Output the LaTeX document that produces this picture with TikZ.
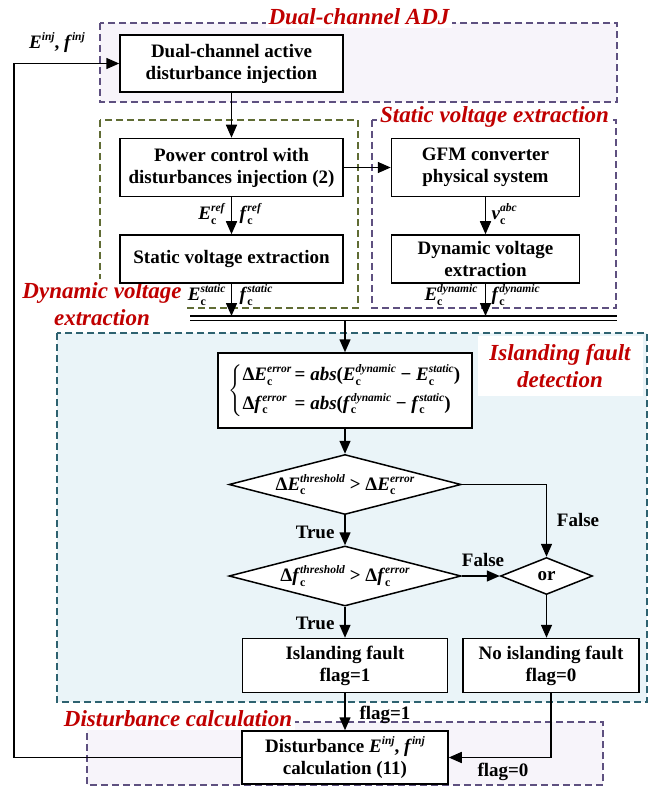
\documentclass[tikz,border=0pt]{standalone}
\usepackage{amsmath}
\usepackage{fontspec}
\setmainfont{Liberation Serif}
\usetikzlibrary{arrows.meta,shapes.geometric,positioning}

\definecolor{adjline}{RGB}{94,80,128}
\definecolor{adjfill}{RGB}{247,244,250}
\definecolor{svline}{RGB}{96,108,52}
\definecolor{ifline}{RGB}{46,98,112}
\definecolor{iffill}{RGB}{234,244,248}
\definecolor{titred}{RGB}{192,0,0}

\tikzstyle{block} = [draw, rectangle, line width=1.5pt, fill=white, align=center, inner sep=2pt]
\tikzstyle{decision} = [draw, diamond, line width=1.5pt, fill=white, inner sep=-4pt, aspect=3.8]
\tikzstyle{group} = [draw, dash pattern=on 7pt off 4pt, line width=1.4pt]
\tikzstyle{title} = [fill=white, text=titred, align=center, inner sep=3pt,
                     font=\fontsize{23}{27}\selectfont\bfseries\itshape]
\tikzstyle{arr} = [-{Triangle[length=13pt,width=11pt]}, line width=1.5pt]

% variable with subscript c and italic superscript
\newcommand{\vc}[2]{\textit{#1}\rlap{\raisebox{-4.5pt}{\fontsize{12}{12}\selectfont c}}%
  \raisebox{8pt}{\fontsize{11.5}{12}\selectfont\textit{#2}}}
\newcommand{\vi}[2]{\textit{#1}\raisebox{8pt}{\fontsize{11.5}{12}\selectfont\textit{#2}}}

\begin{document}
\begin{tikzpicture} [x=1pt, y=-1pt, font=\fontsize{19}{22}\selectfont\bfseries]

\useasboundingbox (0,0) rectangle (664,791);

% dashed groups
\draw[group, draw=adjline, fill=adjfill] (100,23) rectangle (617,102);
\draw[group, draw=svline] (100,120) rectangle (358,308);
\draw[group, draw=adjline] (372,120) rectangle (616,308);
\draw[group, draw=ifline, fill=iffill] (57,333) rectangle (647,702);
\draw[group, draw=adjline, fill=adjfill] (87,722) rectangle (603,785);

\node[title] (tadj) at (359,17) {Dual-channel ADJ};
\node[title, anchor=west] (tsv) at (377,117) {Static voltage extraction};
\node[title] (tdv) at (102,304) {Dynamic voltage\\extraction};
\node[title, minimum width=165pt, minimum height=60pt] (tif) at (560,366)
      {Islanding fault\\detection};
\node[title] (tdc) at (178,719) {Disturbance calculation};

% blocks
\node[block, minimum width=223pt, minimum height=57pt]
      (inj) at (231.5,63.5) {Dual-channel active\\disturbance injection};

\node[block, below=45pt of inj, minimum width=223pt, minimum height=58pt]
      (pwr) {Power control with\\disturbances injection (2)};

\node[block, below=37pt of pwr, minimum width=223pt, minimum height=48pt]
      (stat) {Static voltage extraction};

\node[block, right=47pt of pwr, minimum width=188pt, minimum height=58pt]
      (gfm) {GFM converter\\physical system};

\node[block, below=37pt of gfm, minimum width=188pt, minimum height=48pt]
      (dyn) {Dynamic voltage\\extraction};

\node[block, minimum width=254pt, minimum height=75pt, inner sep=1pt] (eq) at (345,390.5)
      {$\left\{\begin{tabular}{@{}l@{\,}l@{}}
       Δ\vc{E}{error} & = \textit{abs}(\vc{E}{dynamic} − \vc{E}{static})\\[6pt]
       Δ\vc{f}{error} & = \textit{abs}(\vc{f}{dynamic} − \vc{f}{static})
       \end{tabular}\right.$};

\node[decision, below=25pt of eq, minimum width=232pt, minimum height=60pt]
      (d1) {Δ\vc{E}{threshold} > Δ\vc{E}{error}};

\node[decision, below=30pt of d1, minimum width=232pt, minimum height=60pt]
      (d2) {Δ\vc{f}{threshold} > Δ\vc{f}{error}};

\node[decision, right=38pt of d2, minimum width=92pt, minimum height=37pt,
      inner sep=0pt, aspect=2.5]
      (or) {or};

\node[block, below=31pt of d2, minimum width=205pt, minimum height=54pt]
      (isl) {Islanding fault\\flag=1};

\node[block, right=14pt of isl, minimum width=176pt, minimum height=54pt]
      (noisl) {No islanding fault\\flag=0};

\node[block, below=37pt of isl, minimum width=206pt, minimum height=53pt]
      (dist) {Disturbance \vi{E}{inj}, \vi{f}{inj}\\calculation (11)};

% signal bus
\coordinate (busL) at (190,316);
\coordinate (busR) at (617,316);
\coordinate (busL2) at (190,320.5);
\coordinate (busR2) at (617,320.5);
\draw[line width=1.5pt] (busL) -- (busR);
\draw[line width=1.5pt] (busL2) -- (busR2);

\coordinate (fb) at (14,0);

% connections
\draw[arr] (inj.south) -- (pwr.north);
\draw[arr] (pwr.east) -- (gfm.west);
\draw[arr] (pwr.south) -- (stat.north);
\draw[arr] (gfm.south) -- (dyn.north);
\draw[arr] (stat.south) -- (stat.south |- busL);
\draw[arr] (dyn.south) -- (dyn.south |- busL);
\draw[arr] (eq.north |- busL2) -- (eq.north);
\draw[arr] (eq.south) -- (d1.north);
\draw[arr] (d1.south) -- (d2.north);
\draw[arr] (d1.east) -| (or.north);
\draw[arr] (d2.east) -- (or.west);
\draw[arr] (d2.south) -- (isl.north);
\draw[arr] (or.south) -- (or.south |- noisl.north);
\draw[arr] (isl.south) -- (dist.north);
\draw[arr] (noisl.south) |- (dist.east);
\draw[arr] (dist.west) -- (dist.west -| fb) |- (inj.west);

% labels
\node (einj) at (57,43) {\vi{E}{inj}, \vi{f}{inj}};
\node[anchor=east] (eref) at (229,214) {\vc{E}{ref}};
\node[anchor=west] (fref) at (236,214) {\vc{f}{ref}};
\node[anchor=west] (vabc) at (488,214) {\vc{v}{abc}};
\node[anchor=east] (estat) at (229,295) {\vc{E}{static}};
\node[anchor=west] (fstat) at (236,295) {\vc{f}{static}};
\node[anchor=east] (edyn) at (481,295) {\vc{E}{dynamic}};
\node[anchor=west] (fdyn) at (488,295) {\vc{f}{dynamic}};
\node[anchor=east] (true1) at (338,532) {True};
\node[anchor=east] (true2) at (338,623) {True};
\node (false1) at (578,520) {False};
\node (false2) at (483,560) {False};
\node (flag1) at (385,715) {flag=1};
\node (flag0) at (503,772) {flag=0};

\end{tikzpicture}
\end{document}
